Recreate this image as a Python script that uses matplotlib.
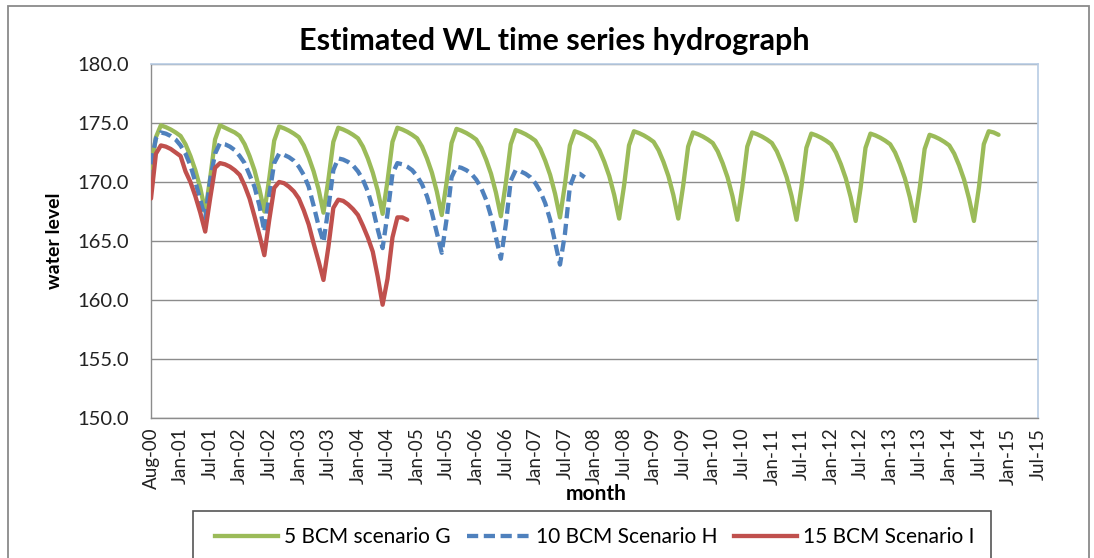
import matplotlib
matplotlib.use("Agg")
import matplotlib.pyplot as plt
from matplotlib.patches import Rectangle
from matplotlib.lines import Line2D

plt.rcParams['font.family'] = ['Lato', 'DejaVu Sans']

# ---------------- data ----------------
tick_labels = ['Aug-00',
               'Jan-01', 'Jul-01', 'Jan-02', 'Jul-02', 'Jan-03', 'Jul-03',
               'Jan-04', 'Jul-04', 'Jan-05', 'Jul-05', 'Jan-06', 'Jul-06',
               'Jan-07', 'Jul-07', 'Jan-08', 'Jul-08', 'Jan-09', 'Jul-09',
               'Jan-10', 'Jul-10', 'Jan-11', 'Jul-11', 'Jan-12', 'Jul-12',
               'Jan-13', 'Jul-13', 'Jan-14', 'Jul-14', 'Jan-15', 'Jul-15']

scenario_g = [
    171.2, 173.8, 174.8, 174.65, 174.45, 174.2, 173.9, 173.2, 172.2, 171.0, 169.5, 167.5,
    170.3, 173.6, 174.8, 174.6, 174.4, 174.2, 173.9, 173.2, 172.2, 171.0, 169.4, 167.5,
    170.3, 173.5, 174.7, 174.55, 174.35, 174.1, 173.8, 173.1, 172.1, 170.9, 169.4, 167.4,
    170.2, 173.4, 174.6, 174.45, 174.25, 174.0, 173.7, 173.0, 172.0, 170.8, 169.3, 167.3,
    170.1, 173.4, 174.6, 174.45, 174.25, 174.0, 173.7, 173.0, 172.0, 170.8, 169.2, 167.2,
    170.0, 173.3, 174.5, 174.35, 174.15, 173.9, 173.6, 172.9, 171.9, 170.7, 169.1, 167.1,
    169.9, 173.2, 174.4, 174.25, 174.05, 173.8, 173.5, 172.8, 171.8, 170.6, 169.0, 167.0,
    169.8, 173.1, 174.3, 174.15, 173.95, 173.7, 173.4, 172.7, 171.7, 170.5, 168.9, 166.9,
    169.7, 173.1, 174.3, 174.15, 173.95, 173.7, 173.4, 172.7, 171.7, 170.5, 168.9, 166.9,
    169.7, 173.0, 174.2, 174.05, 173.85, 173.6, 173.3, 172.6, 171.6, 170.4, 168.8, 166.8,
    169.6, 173.0, 174.2, 174.05, 173.85, 173.6, 173.3, 172.6, 171.6, 170.4, 168.8, 166.8,
    169.6, 172.9, 174.1, 173.95, 173.75, 173.5, 173.2, 172.5, 171.5, 170.3, 168.7, 166.7,
    169.5, 172.9, 174.1, 173.95, 173.75, 173.5, 173.2, 172.5, 171.5, 170.3, 168.7, 166.7,
    169.5, 172.8, 174.0, 173.85, 173.65, 173.4, 173.1, 172.4, 171.4, 170.2, 168.6, 166.7,
    169.5, 173.2, 174.3, 174.2, 174.0,
]

scenario_h = [
    171.5, 173.7, 174.2, 174.1, 173.9, 173.6, 173.1, 172.4, 171.4, 170.0, 168.5, 166.9,
    170.2, 172.4, 173.3, 173.2, 173.0, 172.7, 172.2, 171.6, 170.6, 169.6, 168.0, 165.8,
    168.9, 171.6, 172.4, 172.3, 172.1, 171.8, 171.3, 170.6, 169.6, 168.0, 166.3, 164.9,
    167.8, 171.0, 172.0, 171.9, 171.7, 171.4, 170.9, 170.2, 169.2, 167.8, 166.0, 164.4,
    167.3, 170.7, 171.6, 171.5, 171.3, 171.0, 170.5, 169.8, 168.8, 167.4, 165.7, 164.0,
    166.9, 170.4, 171.3, 171.2, 171.0, 170.7, 170.2, 169.5, 168.5, 167.1, 165.3, 163.5,
    166.4, 170.1, 171.0, 170.9, 170.7, 170.4, 169.9, 169.2, 168.2, 166.8, 164.9, 163.0,
    165.6, 169.6, 170.7, 170.7, 170.4,
]

scenario_i = [
    168.6, 172.4, 173.1, 173.0, 172.8, 172.5, 172.2, 170.9, 170.0, 168.8, 167.4, 165.8,
    168.6, 171.2, 171.6, 171.5, 171.3, 171.0, 170.6, 169.7, 168.6, 167.1, 165.5, 163.8,
    166.8, 169.5, 170.0, 169.9, 169.6, 169.2, 168.6, 167.6, 166.4, 164.8, 163.3, 161.7,
    164.5, 167.8, 168.5, 168.4, 168.1, 167.7, 167.2, 166.3, 165.3, 164.1, 162.0, 159.6,
    161.8, 165.3, 167.0, 167.0, 166.8,
]

series_names = ['5 BCM scenario G', '10 BCM Scenario H', '15 BCM Scenario I']
series_colors = ['#9BBB59', '#4F81BD', '#C0504D']

# ---------------- figure ----------------
W, H = 1094, 558
fig = plt.figure(figsize=(W / 100, H / 100), dpi=100)

def fx(px):
    return px / W

def fy(py):
    return 1 - py / H

# outer chart border
fig.patches.append(Rectangle((fx(8), fy(575)), fx(1089) - fx(8), fy(6) - fy(575),
                             transform=fig.transFigure, fill=False,
                             edgecolor='#8a8a8a', lw=1.3))

ax = fig.add_axes([fx(151), fy(418), fx(1038) - fx(151), fy(64) - fy(418)])

lw = 3.1
ax.plot(range(len(scenario_g)), scenario_g, color=series_colors[0], lw=lw,
        solid_joinstyle='round', solid_capstyle='round', zorder=3)
ax.plot(range(len(scenario_h)), scenario_h, color=series_colors[1], lw=lw,
        dashes=(2.6, 1.3), dash_capstyle='butt', zorder=4)
ax.plot(range(len(scenario_i)), scenario_i, color=series_colors[2], lw=lw,
        solid_joinstyle='round', solid_capstyle='round', zorder=5)

ax.set_xlim(0, 180)
ax.set_ylim(150, 180)
ax.set_yticks([150, 155, 160, 165, 170, 175, 180])
ax.set_yticklabels([f'{v:.1f}' for v in [150, 155, 160, 165, 170, 175, 180]])
ax.set_xticks(range(0, 181, 6))
ax.set_xticklabels(tick_labels, rotation=90)

ax.grid(axis='y', color='#8c8c8c', lw=1.0)
ax.set_axisbelow(True)
for side in ['left', 'bottom']:
    ax.spines[side].set_color('#8c8c8c')
    ax.spines[side].set_linewidth(1.0)
for side in ['top', 'right']:
    ax.spines[side].set_color('#b8cce4')
    ax.spines[side].set_linewidth(1.2)

ax.tick_params(axis='y', length=0, pad=16, labelsize=14.5, labelcolor='#222222')
ax.tick_params(axis='x', length=0, pad=7, labelsize=13.5, labelcolor='#222222')

fig.text(fx(554), fy(41), 'Estimated WL time series hydrograph',
         ha='center', va='center', fontsize=22, fontweight='bold')
fig.text(fx(596), fy(494), 'month', ha='center', va='center',
         fontsize=15, fontweight='bold')
fig.text(fx(55), fy(241), 'water level', ha='center', va='center',
         rotation=90, fontsize=14, fontweight='bold')

# legend box
fig.patches.append(Rectangle((fx(193), fy(575)), fx(991) - fx(193), fy(511) - fy(575),
                             transform=fig.transFigure, fill=False,
                             edgecolor='#555555', lw=1.2))
handles = [
    Line2D([], [], color=series_colors[0], lw=lw),
    Line2D([], [], color=series_colors[1], lw=lw, dashes=(2.6, 1.3), dash_capstyle='butt'),
    Line2D([], [], color=series_colors[2], lw=lw),
]
fig.legend(handles, series_names, loc='center', bbox_to_anchor=(fx(595), fy(537)),
           ncol=3, frameon=False, fontsize=15, handlelength=3.0,
           handletextpad=0.3, columnspacing=0.8)

fig.savefig('out.png', dpi=100)
